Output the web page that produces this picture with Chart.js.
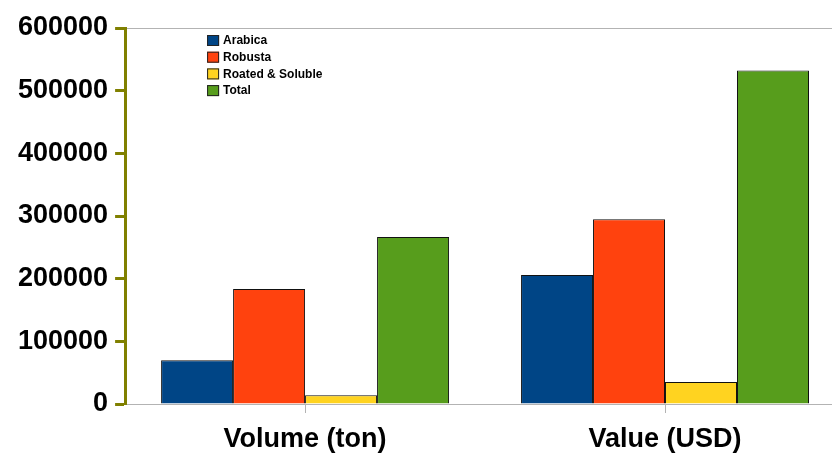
<!DOCTYPE html>
<html>
<head>
<meta charset="utf-8">
<script src="https://cdn.jsdelivr.net/npm/chart.js@4"></script>
<style>
  html, body { margin: 0; padding: 0; background: #fff; overflow: hidden; }
  #wrap { width: 850px; height: 454px; }
</style>
</head>
<body>
<div id="wrap"><canvas id="chart"></canvas></div>
<script>
// 데이터
const categories = ["Volume (ton)", "Value (USD)"];
const seriesNames = ["Arabica", "Robusta", "Roated & Soluble", "Total"];
const arabica = [70000, 206000];
const robusta = [183500, 295000];
const roasted = [14000, 35000];
const total = [266500, 532000];
const yTicks = [0, 100000, 200000, 300000, 400000, 500000, 600000];

const colors = ["#004586", "#ff420e", "#ffd320", "#579d1c"];
const olive = "#808000";
const font = "'Liberation Sans', Arial, sans-serif";

// 범례 (차트 영역 안쪽)
const innerLegend = {
  id: "innerLegend",
  afterDraw(chart) {
    const ctx = chart.ctx;
    const area = chart.chartArea;
    const x = area.left + 82;
    let y = area.top + 12;
    ctx.save();
    ctx.font = "bold 12px " + font;
    ctx.textBaseline = "middle";
    chart.data.datasets.forEach(ds => {
      ctx.fillStyle = ds.backgroundColor;
      ctx.fillRect(x, y - 5, 12, 11);
      ctx.strokeStyle = "#222";
      ctx.lineWidth = 1;
      ctx.strokeRect(x + 0.5, y - 4.5, 11, 10);
      ctx.fillStyle = "#000";
      ctx.fillText(ds.label, x + 16, y + 1);
      y += 16.7;
    });
    ctx.restore();
  }
};

const values = [arabica, robusta, roasted, total];

new Chart(document.getElementById("chart"), {
  type: "bar",
  data: {
    labels: categories,
    datasets: seriesNames.map((name, i) => ({
      label: name,
      data: values[i],
      backgroundColor: colors[i],
      borderColor: "#111",
      borderWidth: 1,
      categoryPercentage: 0.8,
      barPercentage: 1.0
    }))
  },
  options: {
    responsive: true,
    maintainAspectRatio: false,
    animation: false,
    layout: { padding: { left: 11, right: 5, top: 28, bottom: 0 } },
    plugins: {
      legend: { display: false },
      tooltip: { enabled: false }
    },
    scales: {
      x: {
        afterFit: s => { s.height = 50; },
        grid: {
          offset: false,
          drawOnChartArea: false,
          color: "#b3b3b3",
          tickLength: 9
        },
        border: { display: false },
        ticks: {
          color: "#000",
          font: { family: font, size: 27, weight: "bold", lineHeight: 1 },
          padding: 13
        }
      },
      y: {
        min: 0,
        max: 600000,
        afterBuildTicks: axis => { axis.ticks = yTicks.map(v => ({ value: v })); },
        grid: {
          color: ctx => (ctx.tick && (ctx.tick.value === 0 || ctx.tick.value === 600000)) ? "#b3b3b3" : "rgba(0,0,0,0)",
          lineWidth: 1,
          tickColor: olive,
          tickWidth: 3,
          tickLength: 10
        },
        border: { display: true, color: olive, width: 3 },
        ticks: {
          color: "#000",
          font: { family: font, size: 27, weight: "bold", lineHeight: 0.3 },
          padding: 7,
          callback: v => String(v)
        }
      }
    }
  },
  plugins: [innerLegend]
});
</script>
</body>
</html>
